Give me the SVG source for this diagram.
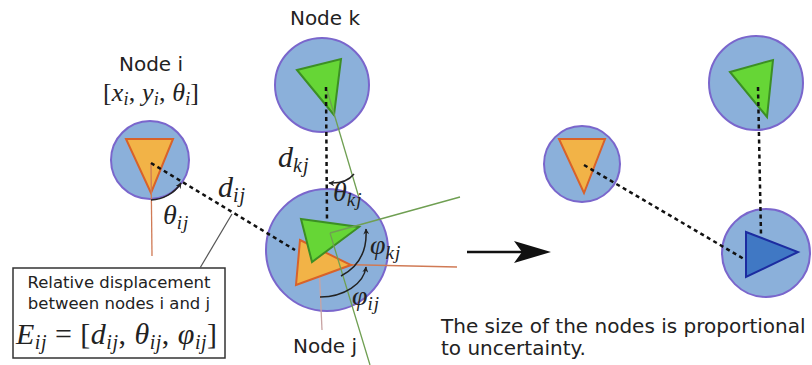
<svg xmlns="http://www.w3.org/2000/svg" width="812" height="365" viewBox="0 0 812 365">
<style>
.lbl{font-family:"DejaVu Sans",sans-serif;fill:#222}
.m{font-family:"Liberation Serif",serif;font-style:italic;fill:#222}
.up{font-style:normal}
.sb{letter-spacing:1px}
.circ{fill:#8bb0da;stroke:#7a66cc;stroke-width:2}
.tri-o{fill:#f2b347;stroke:#d8622a;stroke-width:2;stroke-linejoin:miter}
.tri-g{fill:#66d636;stroke:#3c8f24;stroke-width:2}
.tri-b{fill:#4078c4;stroke:#1c2ca0;stroke-width:2}
.dash{fill:none;stroke:#111;stroke-width:2.5;stroke-dasharray:4 3.5}
.gl{fill:none;stroke:#6f9f52;stroke-width:1.3}
.ol{fill:none;stroke:#d07a55;stroke-width:1.3}
.pl{fill:none;stroke:#c8a3a3;stroke-width:1.3}
.arc{fill:none;stroke:#222;stroke-width:1.5;marker-end:url(#ah)}
</style>
<defs>
<marker id="ah" viewBox="0 0 10 10" refX="9" refY="5" markerWidth="6" markerHeight="6" orient="auto" markerUnits="userSpaceOnUse">
<path d="M0,0 L10,5 L0,10 L3,5 z" fill="#222"/>
</marker>
</defs>

<!-- Node i -->
<g id="node-i">
<text class="lbl" x="151" y="71" font-size="20" text-anchor="middle">Node i</text>
<text class="m" x="103" y="101" font-size="26" textLength="96" lengthAdjust="spacing"><tspan class="up">[</tspan><tspan>x</tspan><tspan font-size="18" dy="4">i</tspan><tspan class="up" dy="-4">, </tspan><tspan>y</tspan><tspan font-size="18" dy="4">i</tspan><tspan class="up" dy="-4">, </tspan><tspan>θ</tspan><tspan font-size="18" dy="4">i</tspan><tspan class="up" dy="-4">]</tspan></text>
<circle class="circ" cx="150" cy="160" r="39"/>
<polygon class="tri-o" points="126,139 173,139 151,193"/>
<path class="ol" d="M151,163 L152,256"/>
</g>

<!-- Node k -->
<g id="node-k">
<text class="lbl" x="325" y="25" font-size="20" text-anchor="middle">Node k</text>
<circle class="circ" cx="322" cy="85" r="47"/>
<polygon class="tri-g" points="297,70 341,59 334,115"/>
<path class="gl" d="M327,90 L365,218"/>
</g>

<!-- Node j -->
<g id="node-j">
<circle class="circ" cx="327" cy="250" r="61" stroke-width="3"/>
<path class="ol" d="M319,264 L457,267"/>
<path class="pl" d="M319,264 L322,330"/>
<polygon class="tri-o" points="300,240 351,265 296,285"/>
<polygon class="tri-g" points="301,219 359,227 312,262"/>
<path class="gl" d="M330,233 L460,197 M330,233 L370,365"/>
<text class="lbl" x="325" y="353" font-size="20" text-anchor="middle">Node j</text>
</g>

<!-- Relative displacement box -->
<g id="edge-box">
<rect x="13" y="268" width="212" height="90" fill="#fff" stroke="#333" stroke-width="1.5"/>
<text class="lbl" x="119" y="288" font-size="16.5" text-anchor="middle">Relative displacement</text>
<text class="lbl" x="119" y="309" font-size="16.5" text-anchor="middle">between nodes i and j</text>
<text class="m" x="16" y="344" font-size="30" textLength="201" lengthAdjust="spacing"><tspan>E</tspan><tspan font-size="20" dy="5">ij</tspan><tspan class="up" dy="-5"> = [</tspan><tspan>d</tspan><tspan font-size="20" dy="5">ij</tspan><tspan class="up" dy="-5">, </tspan><tspan>θ</tspan><tspan font-size="20" dy="5">ij</tspan><tspan class="up" dy="-5">, </tspan><tspan>φ</tspan><tspan font-size="20" dy="5">ij</tspan><tspan class="up" dy="-5">]</tspan></text>
</g>

<!-- Right: nodes after -->
<g id="node-i2">
<circle class="circ" cx="582" cy="164" r="38"/>
<polygon class="tri-o" points="559,139 605,139 584,193"/>
</g>
<g id="node-k2">
<circle class="circ" cx="756" cy="83" r="47"/>
<polygon class="tri-g" points="730,72 773,60 767,117"/>
</g>
<g id="node-j2">
<circle class="circ" cx="766" cy="253" r="44"/>
<polygon class="tri-b" points="746,232 798,252 746,277"/>
</g>

<!-- Connectors -->
<g id="connectors">
<path class="dash" d="M151,163 L295,250"/>
<path class="dash" d="M326,87 L327,222"/>
<path d="M200,268 L232,214" stroke="#555" stroke-width="1.2" fill="none"/>
<path class="arc" d="M151,200 A37,37 0 0 0 181,183"/>
<path class="arc" d="M354,174 Q346,184 329,183"/>
<path class="arc" d="M320,297 A46,33 0 0 0 366,267"/>
<path class="arc" d="M341,276 Q368,262 366,229"/>
<path class="dash" d="M584,165 L744,259"/>
<path class="dash" d="M758,87 L761,235"/>
<path d="M467,252 L530,252" stroke="#111" stroke-width="2.5"/>
<path d="M551,252 L514,241 L522,252 L514,263 Z" fill="#111"/>
</g>

<!-- Math labels -->
<g id="labels">
<text class="m" x="218" y="197" font-size="30"><tspan>d</tspan><tspan class="sb" font-size="20" dy="5">ij</tspan></text>
<text class="m" x="163" y="224" font-size="28"><tspan>θ</tspan><tspan class="sb" font-size="19" dy="5">ij</tspan></text>
<text class="m" x="278" y="167" font-size="30"><tspan>d</tspan><tspan class="sb" font-size="20" dy="5">kj</tspan></text>
<text class="m" x="333" y="201" font-size="28"><tspan>θ</tspan><tspan class="sb" font-size="19" dy="5">kj</tspan></text>
<text class="m" x="370" y="254" font-size="28"><tspan>φ</tspan><tspan class="sb" font-size="19" dy="5">kj</tspan></text>
<text class="m" x="352" y="305" font-size="28"><tspan>φ</tspan><tspan class="sb" font-size="19" dy="5">ij</tspan></text>
<text class="lbl" x="441" y="333" font-size="20">The size of the nodes is proportional</text>
<text class="lbl" x="441" y="355" font-size="20">to uncertainty.</text>
</g>
</svg>
